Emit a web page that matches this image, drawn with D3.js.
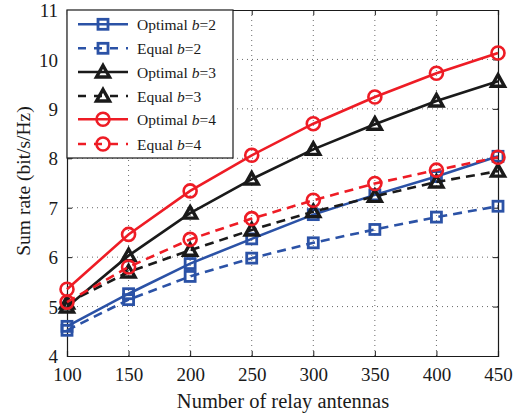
<!DOCTYPE html>
<html><head><meta charset="utf-8">
<script src="https://cdn.jsdelivr.net/npm/d3@7"></script>
<style>body{margin:0;background:#fff}svg{display:block}text{font-family:"Liberation Serif","Times New Roman",serif;fill:#1a1a1a}</style>
</head><body><div id="chart"></div>
<script>
const antennas = [100,150,200,250,300,350,400,450];
const optimalB2 = [4.60,5.26,5.87,6.37,6.86,7.26,7.63,8.04];
const equalB2   = [4.52,5.14,5.61,5.98,6.29,6.56,6.81,7.03];
const optimalB3 = [4.99,6.03,6.89,7.58,8.18,8.69,9.16,9.56];
const equalB3   = [5.07,5.70,6.14,6.55,6.92,7.23,7.52,7.74];
const optimalB4 = [5.35,6.46,7.34,8.06,8.70,9.24,9.72,10.13];
const equalB4   = [5.09,5.80,6.36,6.78,7.15,7.49,7.76,8.02];
const xTicks = [100,150,200,250,300,350,400,450];
const yTicks = [4,5,6,7,8,9,10,11];
const seriesNames = ["Optimal","Equal","Optimal","Equal","Optimal","Equal"];
const seriesB = ["2","2","3","3","4","4"];
const seriesValues = [optimalB2,equalB2,optimalB3,equalB3,optimalB4,equalB4];
const seriesColors = ["#2b52a6","#2b52a6","#1a1a1a","#1a1a1a","#ee1c25","#ee1c25"];
const seriesDashed = [false,true,false,true,false,true];
const seriesMarker = ["square","square","triangle","triangle","circle","circle"];

const W=523,H=417;
const m={l:67,r:25,t:10,b:61};
const svg=d3.select("#chart").append("svg").attr("width",W).attr("height",H);
const x=d3.scaleLinear().domain([100,450]).range([m.l,W-m.r]);
const y=d3.scaleLinear().domain([4,11]).range([H-m.b,m.t]);

// grid
const g=svg.append("g");
g.selectAll(".gx").data(xTicks.slice(1,-1)).join("line")
 .attr("x1",d=>x(d)).attr("x2",d=>x(d)).attr("y1",y(4)).attr("y2",y(11))
 .attr("stroke","#444").attr("stroke-width",0.8).attr("stroke-dasharray","1,4");
g.selectAll(".gy").data(yTicks.slice(1,-1)).join("line")
 .attr("y1",d=>y(d)).attr("y2",d=>y(d)).attr("x1",x(100)).attr("x2",x(450))
 .attr("stroke","#444").attr("stroke-width",0.8).attr("stroke-dasharray","1,4");

// axes
const fs=19;
const xa=svg.append("g").attr("transform",`translate(0,${y(4)})`)
 .call(d3.axisBottom(x).tickValues(xTicks).tickSize(-5).tickPadding(8).tickFormat(d3.format("d")));
const xa2=svg.append("g").attr("transform",`translate(0,${y(11)})`)
 .call(d3.axisTop(x).tickValues(xTicks).tickSize(-5).tickFormat(""));
const ya=svg.append("g").attr("transform",`translate(${x(100)},0)`)
 .call(d3.axisLeft(y).tickValues(yTicks).tickSize(-5).tickPadding(9).tickFormat(d3.format("d")));
const ya2=svg.append("g").attr("transform",`translate(${x(450)},0)`)
 .call(d3.axisRight(y).tickValues(yTicks).tickSize(-5).tickFormat(""));
[xa,xa2,ya,ya2].forEach(a=>{
 a.selectAll("path").attr("stroke","#1a1a1a").attr("stroke-width",1.2);
 a.selectAll("line").attr("stroke","#1a1a1a").attr("stroke-width",1);
 a.selectAll("text").attr("font-size",fs).attr("font-family","Liberation Serif, serif").attr("fill","#1a1a1a");
});
xa.selectAll("text").attr("dy","0.9em");
ya.selectAll("text").attr("dy","0.35em");

svg.append("text").attr("x",283).attr("y",408).attr("text-anchor","middle")
 .attr("font-size",20.5).text("Number of relay antennas");
svg.append("text").attr("transform",`translate(30,181) rotate(-90)`).attr("text-anchor","middle")
 .attr("font-size",19.5).text("Sum rate (bit/s/Hz)");

function marker(sel,type,color){
 if(type==="square") sel.append("rect").attr("x",-5).attr("y",-5).attr("width",10).attr("height",10)
   .attr("fill","none").attr("stroke",color).attr("stroke-width",2.8);
 else if(type==="circle") sel.append("circle").attr("r",6.5).attr("fill","none").attr("stroke",color).attr("stroke-width",2.6);
 else sel.append("path").attr("d","M0,-6.5L6.5,5L-6.5,5Z").attr("fill","none").attr("stroke",color).attr("stroke-width",3.4).attr("stroke-linejoin","miter");
}

const line=d3.line().x((d,i)=>x(antennas[i])).y(d=>y(d));
const order=[0,1,2,3,4,5];
order.forEach(i=>{
 const s=svg.append("g");
 s.append("path").datum(seriesValues[i]).attr("d",line).attr("fill","none")
  .attr("stroke",seriesColors[i]).attr("stroke-width",2.6)
  .attr("stroke-dasharray",seriesDashed[i]?"9,6":null);
 s.selectAll("g.mk").data(seriesValues[i]).join("g").attr("class","mk")
  .attr("transform",(d,j)=>`translate(${x(antennas[j])},${y(d)})`)
  .each(function(){marker(d3.select(this),seriesMarker[i],seriesColors[i]);});
});

// legend
const lg=svg.append("g");
lg.append("rect").attr("x",x(100)).attr("y",y(11)).attr("width",166).attr("height",148)
 .attr("fill","#fff").attr("stroke","#1a1a1a").attr("stroke-width",1.2);
const ly=[24.3,48.3,72,96,119.3,144];
order.forEach(i=>{
 const r=lg.append("g").attr("transform",`translate(0,${ly[i]})`);
 r.append("line").attr("x1",78).attr("x2",128).attr("y1",0).attr("y2",0)
  .attr("stroke",seriesColors[i]).attr("stroke-width",2.6).attr("stroke-dasharray",seriesDashed[i]?"8,8":null);
 const mk=r.append("g").attr("transform","translate(103,0)");
 marker(mk,seriesMarker[i],seriesColors[i]);
 const t=r.append("text").attr("x",137).attr("y",5.5).attr("font-size",15.5);
 t.append("tspan").text(seriesNames[i]+" ");
 t.append("tspan").attr("font-style","italic").text("b");
 t.append("tspan").text("="+seriesB[i]);
});
</script></body></html>
